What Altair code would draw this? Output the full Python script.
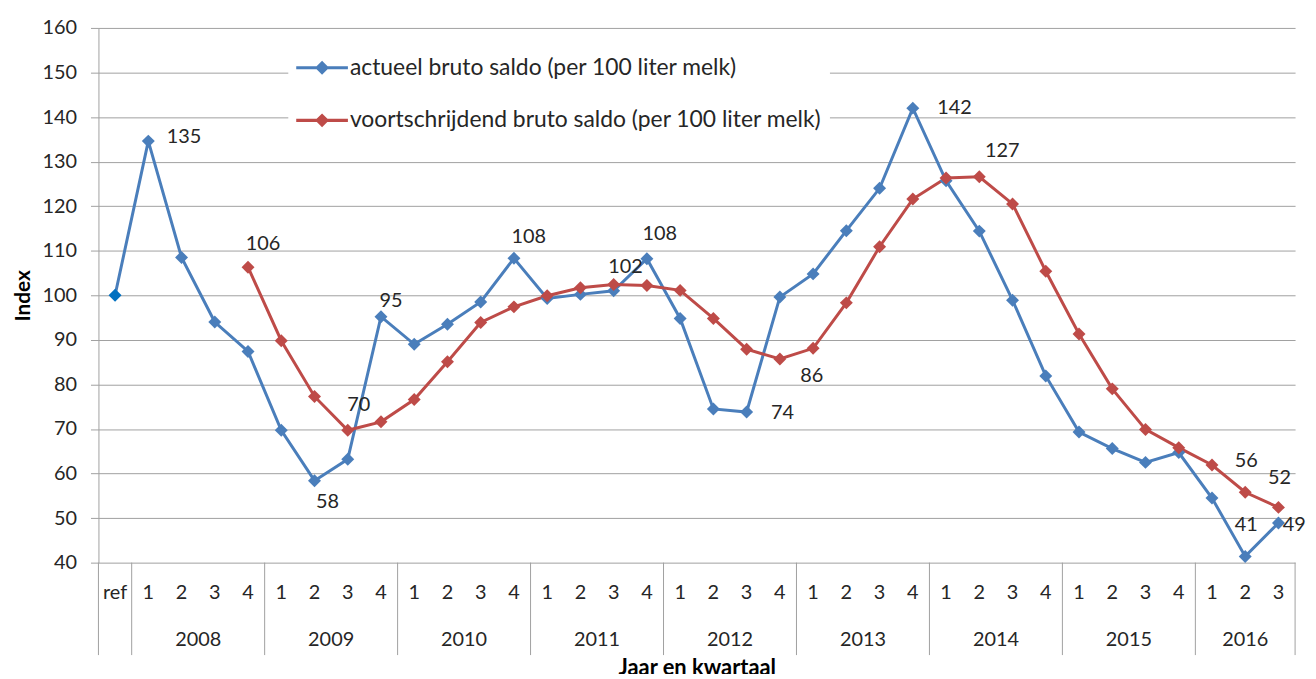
import altair as alt
import pandas as pd

# ---------------- data ----------------
YEARS = ["2008", "2009", "2010", "2011", "2012", "2013", "2014", "2015", "2016"]
QUARTERS_PER_YEAR = [4, 4, 4, 4, 4, 4, 4, 4, 3]
QUARTER_LABELS = ["ref"] + [str(q + 1) for n in QUARTERS_PER_YEAR for q in range(n)]

SERIES = ["actueel bruto saldo (per 100 liter melk)",
          "voortschrijdend bruto saldo (per 100 liter melk)"]

ACTUEEL = [100.0,
           134.6, 108.5, 94.0, 87.4,
           69.7, 58.4, 63.2, 95.2,
           89.0, 93.5, 98.5, 108.3,
           99.3, 100.2, 101.0, 108.2,
           94.8, 74.5, 73.8, 99.6,
           104.8, 114.5, 124.0, 142.0,
           125.7, 114.4, 98.9, 81.9,
           69.3, 65.6, 62.5, 64.7,
           54.5, 41.4, 48.9]

VOORTSCHRIJDEND = [None,
                   None, None, None, 106.3,
                   89.8, 77.3, 69.7, 71.6,
                   76.6, 85.1, 93.9, 97.4,
                   99.9, 101.7, 102.4, 102.2,
                   101.1, 94.8, 87.9, 85.7,
                   88.1, 98.3, 110.9, 121.6,
                   126.3, 126.6, 120.5, 105.4,
                   91.3, 79.0, 69.9, 65.8,
                   61.9, 55.8, 52.4]

# which points carry a data label: (series index, category index)
LABELLED = [(0, 1), (1, 4), (0, 8), (0, 6), (1, 7), (0, 12), (1, 15), (0, 16),
            (0, 19), (1, 20), (0, 24), (1, 26), (1, 34), (1, 35), (0, 34), (0, 35)]

# ---------------- styling / layout ----------------
BLUE = "#4A7EBB"
RED = "#BE4B48"
REF_BLUE = "#0070C0"
GRID = "#A0A0A0"
TXT = "#262626"
FONT = "Lato"
W, H = 1204, 538

# label offsets (pixels) for each labelled point, same order as LABELLED
LABEL_OFFSETS = [(36, -4), (15, -23), (10, -16), (13, 22), (11, -25), (15, -21),
                 (12, -18), (13, -25), (36, 1), (32, 17), (42, 0), (23, -26),
                 (1, -31), (1, -30), (1, -32), (16, 2)]

# ---------------- build tables ----------------
n_cat = len(QUARTER_LABELS)
rows = []
for s, vals in enumerate([ACTUEEL, VOORTSCHRIJDEND]):
    for i, v in enumerate(vals):
        if v is not None:
            rows.append({"idx": i, "pos": i + 0.5, "series": SERIES[s], "value": v})
df = pd.DataFrame(rows)

qdf = pd.DataFrame({"pos": [i + 0.5 for i in range(n_cat)], "label": QUARTER_LABELS})

bounds = [0, 1]
for n in QUARTERS_PER_YEAR:
    bounds.append(bounds[-1] + n)
bdf = pd.DataFrame({"b": bounds})
ydf = pd.DataFrame({"year": YEARS,
                    "center": [(bounds[k + 1] + bounds[k + 2]) / 2 for k in range(len(YEARS))]})

xscale = alt.Scale(domain=[0, n_cat], nice=False, zero=False)
yscale = alt.Scale(domain=[40, 160], nice=False, zero=False)

x_enc = alt.X("pos:Q", scale=xscale,
              axis=alt.Axis(title="Jaar en kwartaal", labels=False, ticks=False, grid=False,
                            domain=False, titleFont=FONT, titleFontSize=22, titleFontWeight="bold",
                            titleColor="#000", titlePadding=96))
y_enc = alt.Y("value:Q", scale=yscale,
              axis=alt.Axis(values=list(range(40, 161, 10)), title="Index", titleFont=FONT,
                            titleFontSize=21, titleFontWeight="bold", titleColor="#000",
                            titlePadding=9, labelFont=FONT, labelFontSize=20, labelColor=TXT,
                            labelPadding=14, tickSize=8, tickColor=GRID, domainColor=GRID,
                            gridColor=GRID, gridWidth=1))

color_scale = alt.Scale(domain=SERIES, range=[BLUE, RED])

LEGEND_PATH = "M-1,-0.06H1V0.06H-1Z M0,-0.27L0.27,0L0,0.27L-0.27,0Z"

base = alt.Chart(df)

line_blue = base.transform_filter("datum.series == '%s'" % SERIES[0]).mark_line(
    strokeWidth=3, color=BLUE).encode(x=x_enc, y=y_enc)
line_red = base.transform_filter("datum.series == '%s'" % SERIES[1]).mark_line(
    strokeWidth=3, color=RED).encode(x="pos:Q", y="value:Q")

points = base.transform_filter("datum.idx > 0 || datum.series != '%s'" % SERIES[0]).mark_point(
    shape="diamond", filled=True, size=170, opacity=1
).encode(
    x="pos:Q", y="value:Q",
    color=alt.Color("series:N", scale=color_scale,
                    legend=alt.Legend(title=None, orient="none", legendX=191, legendY=6,
                                      fillColor="white", padding=8, symbolType=LEGEND_PATH,
                                      symbolSize=2704, symbolStrokeWidth=0, symbolOpacity=1,
                                      labelFont=FONT, labelFontSize=23, labelColor=TXT,
                                      labelOffset=2, labelLimit=0, rowPadding=15)),
)

refpt = base.transform_filter("datum.idx == 0 && datum.series == '%s'" % SERIES[0]).mark_point(
    shape="diamond", filled=True, size=170, opacity=1, color=REF_BLUE
).encode(x="pos:Q", y="value:Q")

label_layers = []
for (s, i), (dx, dy) in zip(LABELLED, LABEL_OFFSETS):
    label_layers.append(
        base.transform_filter("datum.idx == %d && datum.series == '%s'" % (i, SERIES[s]))
        .transform_calculate(txt="format(datum.value, '.0f')")
        .mark_text(dx=dx, dy=dy, align="center", baseline="middle", font=FONT, fontSize=20,
                   color=TXT)
        .encode(x="pos:Q", y="value:Q", text="txt:N")
    )

qlabels = alt.Chart(qdf).mark_text(font=FONT, fontSize=20, color=TXT, baseline="middle").encode(
    x="pos:Q", y=alt.value(H + 31), text="label:N")

ylabels = alt.Chart(ydf).mark_text(font=FONT, fontSize=20, color=TXT, baseline="middle").encode(
    x="center:Q", y=alt.value(H + 78), text="year:N")

seps = alt.Chart(bdf).mark_rule(color=GRID, strokeWidth=1).encode(
    x="b:Q", y=alt.value(H), y2=alt.value(H + 93))

chart = alt.layer(line_blue, line_red, points, refpt, *label_layers, qlabels, ylabels, seps).properties(
    width=W, height=H,
    padding={"left": 91, "top": 18, "right": 13, "bottom": 110},
    autosize=alt.AutoSizeParams(type="none"),
    background="white",
).configure_view(stroke=None)

chart.save("out.html", embed_options={"renderer": "svg", "actions": False})
